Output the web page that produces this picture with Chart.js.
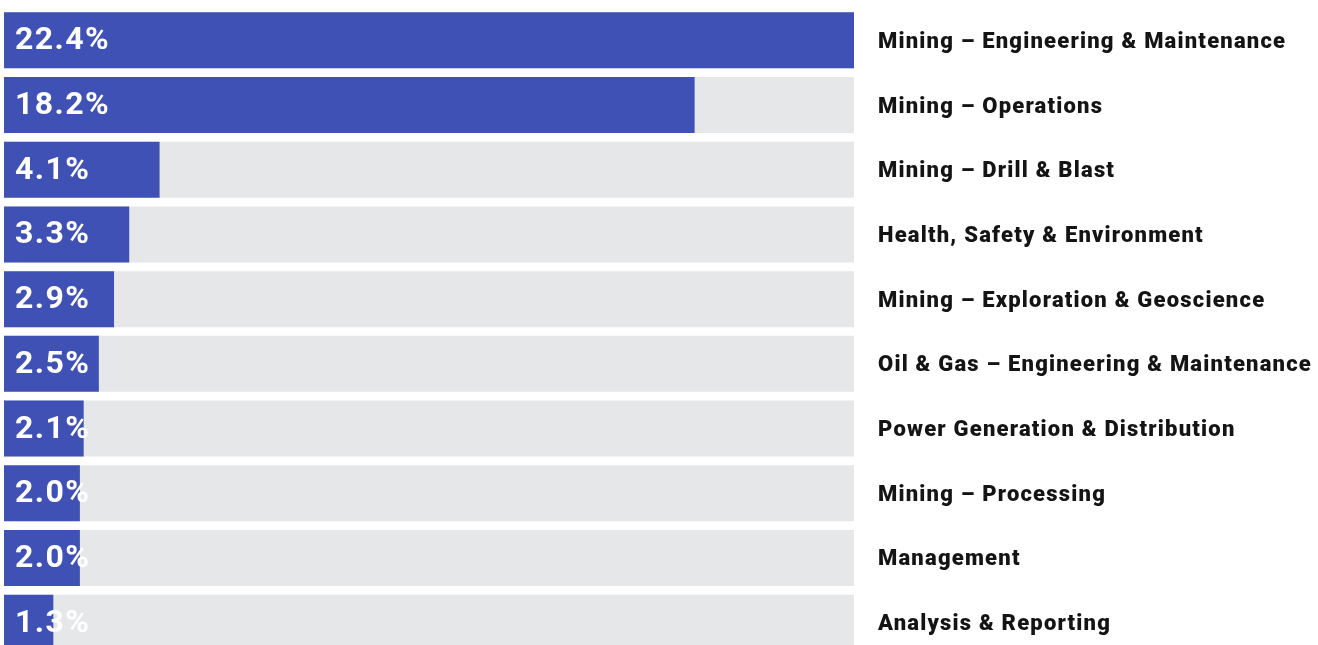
<!DOCTYPE html>
<html>
<head>
<meta charset="utf-8">
<script src="https://cdn.jsdelivr.net/npm/chart.js@4.4.0/dist/chart.umd.min.js"></script>
<style>
  html, body { margin: 0; padding: 0; background: #fff; overflow: hidden; }
  #wrap { position: relative; width: 1318px; height: 660px; }
</style>
</head>
<body>
<div id="wrap"><canvas id="myChart"></canvas></div>
<script>
const categorias = [
  "Mining – Engineering & Maintenance",
  "Mining – Operations",
  "Mining – Drill & Blast",
  "Health, Safety & Environment",
  "Mining – Exploration & Geoscience",
  "Oil & Gas – Engineering & Maintenance",
  "Power Generation & Distribution",
  "Mining – Processing",
  "Management",
  "Analysis & Reporting"
];
const percentuais = [22.4, 18.2, 4.1, 3.3, 2.9, 2.5, 2.1, 2.0, 2.0, 1.3];
const maximo = 22.4;
const fundo = categorias.map(() => maximo);

// espaçamento das letras (o original tem texto mais largo)
const espacamento = {
  id: "espacamento",
  beforeDraw(chart) {
    chart.ctx.letterSpacing = "1.2px";
  }
};

// escreve o valor dentro da barra azul
const rotulos = {
  id: "rotulos",
  afterDatasetsDraw(chart) {
    const ctx = chart.ctx;
    const meta = chart.getDatasetMeta(1);
    ctx.save();
    ctx.letterSpacing = "1.4px";
    ctx.fillStyle = "#ffffff";
    ctx.font = "bold 32px Roboto";
    ctx.textBaseline = "middle";
    ctx.textAlign = "left";
    meta.data.forEach((bar, i) => {
      ctx.fillText(percentuais[i].toFixed(1) + "%", bar.base + 11, bar.y + 1);
    });
    ctx.restore();
  }
};

let ctx2 = document.getElementById("myChart").getContext("2d");
let myChart = new Chart(ctx2, {
  type: "bar",
  data: {
    labels: categorias,
    datasets: [
      {
        label: "fundo",
        data: fundo,
        backgroundColor: "#e6e7e9",
        barPercentage: 0.865,
        categoryPercentage: 1,
        grouped: false,
        order: 2,
      },
      {
        label: "percentual",
        data: percentuais,
        backgroundColor: "#3f51b5",
        barPercentage: 0.865,
        categoryPercentage: 1,
        grouped: false,
        order: 1,
      },
    ],
  },
  options: {
    indexAxis: "y",
    responsive: true,
    maintainAspectRatio: false,
    animation: false,
    layout: {
      padding: { left: 4, top: 8, bottom: 5, right: 0 },
    },
    plugins: {
      legend: { display: false },
      tooltip: { enabled: false },
    },
    scales: {
      x: {
        display: false,
        min: 0,
        max: maximo,
      },
      y: {
        position: "right",
        grid: { display: false, drawTicks: false },
        border: { display: false },
        ticks: {
          padding: 24,
          labelOffset: 2,
          color: "#141414",
          font: { family: "Roboto", weight: "900", size: 22 },
        },
        afterFit(scale) {
          scale.width = 464;
          scale.paddingTop = 0;
          scale.paddingBottom = 0;
        },
      },
    },
  },
  plugins: [espacamento, rotulos],
});
</script>
</body>
</html>
